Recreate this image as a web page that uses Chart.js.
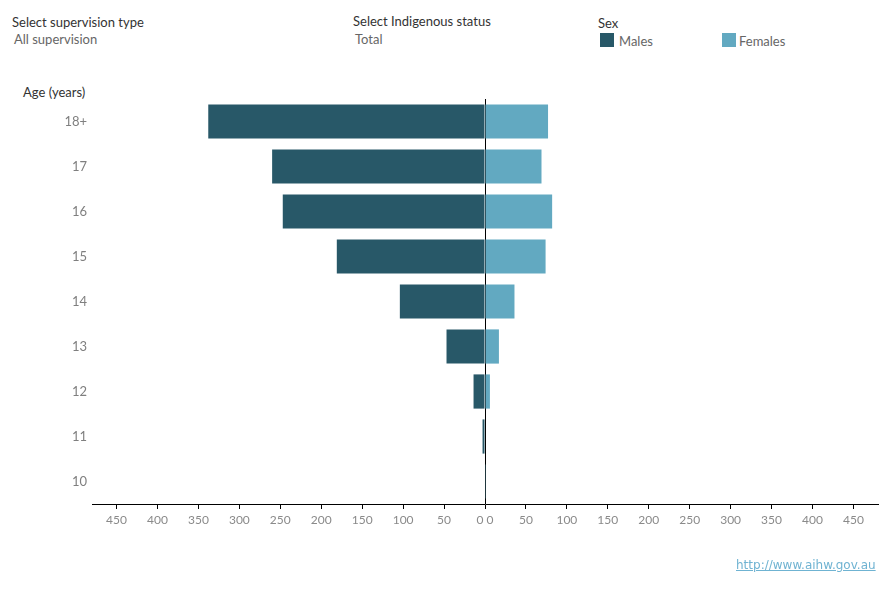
<!DOCTYPE html>
<html>
<head>
<meta charset="utf-8">
<script src="https://cdn.jsdelivr.net/npm/chart.js@4.4.1/dist/chart.umd.min.js"></script>
<style>
  html, body { margin: 0; padding: 0; background: #ffffff; }
  body { width: 890px; height: 600px; position: relative; overflow: hidden; font-family: "Lato", "Open Sans", sans-serif; }
  .t { position: absolute; white-space: nowrap; }
  .hdr { font-size: 13px; color: #333333; }
  .val { font-size: 13px; color: #666666; }
  .sw { position: absolute; width: 14px; height: 14px; }
  #wrap { position: absolute; left: 0; top: 0; width: 890px; height: 600px; }
  a.url { position: absolute; left: 736px; top: 558px; font-size: 12px; color: #6fb3d2; text-decoration: underline; font-family: "DejaVu Sans", sans-serif; }
</style>
</head>
<body>
<div class="t hdr" style="left:12px; top:14px;">Select supervision type</div>
<div class="t val" style="left:14px; top:31px;">All supervision</div>
<div class="t hdr" style="left:353px; top:13px;">Select Indigenous status</div>
<div class="t val" style="left:355px; top:31px;">Total</div>
<div class="t hdr" style="left:598px; top:15px;">Sex</div>
<div class="sw" style="left:600px; top:33px; background:#285868;"></div>
<div class="t val" style="left:619px; top:33px;">Males</div>
<div class="sw" style="left:722px; top:33px; background:#62a9c1;"></div>
<div class="t val" style="left:739px; top:33px;">Females</div>
<div class="t hdr" style="left:23px; top:84px;">Age (years)</div>
<div id="wrap"><canvas id="c" width="890" height="600"></canvas></div>
<a class="url">http://www.aihw.gov.au</a>
<script>
const categories = ["18+", "17", "16", "15", "14", "13", "12", "11", "10"];
const males = [338, 260, 247, 181, 104, 47, 14, 3, 0];
const females = [77, 69, 82, 74, 36, 17, 6, 0, 1];
const tickValues = [-450, -400, -350, -300, -250, -200, -150, -100, -50, 0, 50, 100, 150, 200, 250, 300, 350, 400, 450];

const ctx = document.getElementById('c');
new Chart(ctx, {
  type: 'bar',
  data: {
    labels: categories,
    datasets: [
      { label: 'Males', data: males.map(v => -v), backgroundColor: '#285868', barPercentage: 0.76, categoryPercentage: 1.0 },
      { label: 'Females', data: females, backgroundColor: '#62a9c1', barPercentage: 0.76, categoryPercentage: 1.0 }
    ]
  },
  options: {
    indexAxis: 'y',
    responsive: false,
    animation: false,
    devicePixelRatio: 1,
    layout: { padding: { top: 99, right: 12, bottom: 66, left: 0 } },
    plugins: { legend: { display: false }, tooltip: { enabled: false } },
    scales: {
      x: {
        stacked: true,
        min: -480,
        max: 480,
        afterBuildTicks: (scale) => { scale.ticks = tickValues.map(v => ({ value: v })); },
        afterFit: (scale) => { scale.height = 30; },
        border: { display: true, color: '#000000', width: 1 },
        grid: {
          drawOnChartArea: true,
          drawTicks: true,
          tickLength: 5,
          color: (c) => (c.tick && c.tick.value === 0) ? '#000000' : 'rgba(0,0,0,0)',
          tickColor: '#000000',
          lineWidth: 1
        },
        ticks: {
          padding: 4,
          color: '#8a8a8a',
          font: { family: 'Lato, "Open Sans", sans-serif', size: 12 },
          maxRotation: 0,
          autoSkip: false,
          callback: (v) => v === 0 ? '0 0' : String(Math.abs(v))
        }
      },
      y: {
        stacked: true,
        afterFit: (scale) => { scale.width = 92; },
        border: { display: false },
        grid: { display: false, drawTicks: false, tickLength: 0 },
        ticks: {
          padding: 5,
          color: '#7f7f7f',
          font: { family: 'Lato, "Open Sans", sans-serif', size: 13 }
        }
      }
    }
  }
});
</script>
</body>
</html>
